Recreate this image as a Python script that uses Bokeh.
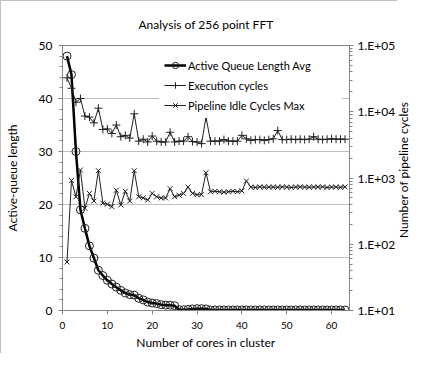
from bokeh.plotting import figure
from bokeh.layouts import row
from bokeh.models import (Range1d, LogScale, LogAxis, ColumnDataSource,
                          SingleIntervalTicker, LogTicker, CustomJSTickFormatter,
                          Legend, LegendItem, Div)
from bokeh.embed import file_html
from bokeh.resources import INLINE

# ---- data ----
cores = [1, 2, 3, 4, 5, 6, 7, 8, 9, 10, 11, 12, 13, 14, 15, 16, 17, 18, 19, 20,
         21, 22, 23, 24, 25, 26, 27, 28, 29, 30, 31, 32, 33, 34, 35, 36, 37, 38, 39, 40,
         41, 42, 43, 44, 45, 46, 47, 48, 49, 50, 51, 52, 53, 54, 55, 56, 57, 58, 59, 60,
         61, 62, 63]

queue_avg = [48.0, 44.5, 30.0, 19.0, 15.5, 12.2, 9.9, 7.6, 6.6, 5.7,
             5.0, 4.4, 3.8, 3.3, 3.0, 2.9, 2.3, 2.0, 1.6, 1.4,
             1.3, 1.1, 1.0, 1.0, 0.9, 0.15, 0.15, 0.2, 0.3, 0.35,
             0.35, 0.3, 0.1, 0.1, 0.1, 0.1, 0.1, 0.1, 0.1, 0.1,
             0.1, 0.1, 0.1, 0.1, 0.1, 0.1, 0.1, 0.1, 0.1, 0.1,
             0.1, 0.1, 0.1, 0.1, 0.1, 0.1, 0.1, 0.1, 0.1, 0.1,
             0.1, 0.1, 0.1]

exec_cycles = [32500, 22600, 13900, 15900, 8600, 8300, 6800, 11300, 5400, 5500,
               4700, 6300, 4200, 4400, 4000, 9300, 3600, 3850, 3500, 4300,
               3600, 3500, 3500, 4900, 3500, 3600, 3600, 4200, 3550, 3500,
               3300, 8300, 3600, 3600, 3600, 3800, 3600, 3600, 3600, 4400,
               3900, 3700, 3800, 3800, 3700, 3800, 3900, 5200, 3800, 3800,
               3850, 3800, 3850, 3800, 3850, 4200, 3850, 3800, 3850, 3900,
               3850, 3850, 3850]

idle_max = [54, 920, 520, 1320, 350, 585, 450, 1290, 417, 402,
            370, 653, 393, 631, 450, 1290, 521, 500, 466, 585,
            521, 500, 500, 690, 521, 550, 585, 730, 585, 560,
            560, 1200, 620, 630, 620, 610, 620, 630, 620, 640,
            900, 730, 720, 735, 725, 730, 730, 725, 735, 730,
            720, 730, 735, 730, 725, 730, 730, 735, 720, 730,
            730, 725, 735]

x_ticks_interval = 10
left_tick_interval = 10

FONT = "Lato"
AXIS_GRAY = "#868686"

src = ColumnDataSource(dict(x=cores, q=queue_avg, e=exec_cycles, i=idle_max))

xr = Range1d(0, 64)
yr = Range1d(0, 50)
p = figure(width=397, height=353, x_range=xr, y_range=yr,
           output_backend="svg", toolbar_location=None,
           min_border_left=59, min_border_right=43, min_border_top=38, min_border_bottom=44)
p.margin = 0
p.styles = {"border-left": "1px solid #bfbfbf", "border-top": "1px solid #bfbfbf"}

p.title.text = "Analysis of 256 point FFT"
p.title.align = "center"
p.title.text_font = FONT
p.title.text_font_size = "12px"
p.title.text_font_style = "normal"
p.title.text_color = "#000000"
p.title.standoff = 27

p.extra_y_ranges = {"cyc": Range1d(10, 100000)}
p.extra_y_scales = {"cyc": LogScale()}

p.outline_line_color = "#808080"
p.background_fill_color = "white"
p.border_fill_color = "white"

# axes
xa = p.xaxis[0]
xa.ticker = SingleIntervalTicker(interval=x_ticks_interval, num_minor_ticks=0)
xa.axis_label = "Number of cores in cluster"
ya = p.yaxis[0]
ya.ticker = SingleIntervalTicker(interval=left_tick_interval, num_minor_ticks=5)
ya.axis_label = "Active-queue length"

ra = LogAxis(y_range_name="cyc", ticker=LogTicker(mantissas=[1], num_minor_ticks=10))
ra.formatter = CustomJSTickFormatter(
    code="return '1.E+' + String(Math.round(Math.log10(tick))).padStart(2, '0');")
p.add_layout(ra, "right")

for ax in (xa, ya, ra):
    ax.axis_line_color = AXIS_GRAY
    ax.major_tick_line_color = AXIS_GRAY
    ax.minor_tick_line_color = AXIS_GRAY
    ax.major_tick_out = 4
    ax.major_tick_in = 0
    ax.minor_tick_out = 3
    ax.minor_tick_in = 0
    ax.major_label_text_font = FONT
    ax.major_label_text_font_size = "12px"
    ax.major_label_text_color = "#000000"
    ax.axis_label_text_font = FONT
    ax.axis_label_text_font_size = "12px"
    ax.axis_label_text_font_style = "normal"
    ax.axis_label_text_color = "#000000"

xa.major_label_text_font_size = "10px"
xa.major_label_standoff = 7
xa.axis_label_standoff = 3
ya.major_label_standoff = 6
ya.axis_label_standoff = 16
ra.major_label_standoff = 4

p.xgrid.visible = False
p.ygrid.ticker = ya.ticker
p.ygrid.grid_line_color = "#bfbfbf"

# series
lq = p.line("x", "q", source=src, line_color="black", line_width=2.5)
sq = p.scatter("x", "q", source=src, marker="circle", size=8, line_color="#202020",
               line_width=1, fill_alpha=0)
le = p.line("x", "e", source=src, y_range_name="cyc", line_color="#202020", line_width=1)
se = p.scatter("x", "e", source=src, y_range_name="cyc", marker="cross", size=8,
               line_color="#202020", line_width=1)
li = p.line("x", "i", source=src, y_range_name="cyc", line_color="#202020", line_width=1)
si = p.scatter("x", "i", source=src, y_range_name="cyc", marker="x", size=7,
               line_color="#202020", line_width=1)

legend = Legend(items=[
    LegendItem(label="Active Queue Length Avg", renderers=[lq, sq]),
    LegendItem(label="Execution cycles", renderers=[le, se]),
    LegendItem(label="Pipeline Idle Cycles Max", renderers=[li, si]),
], location="top_right")
legend.margin = 7
legend.padding = 5
legend.spacing = 4
legend.glyph_width = 22
legend.glyph_height = 16
legend.label_standoff = 2
legend.label_width = 149
legend.label_text_font = FONT
legend.label_text_font_size = "11px"
legend.label_text_color = "#000000"
legend.border_line_alpha = 0
legend.background_fill_color = "white"
legend.background_fill_alpha = 1
p.add_layout(legend)

# right-axis title, reading bottom-to-top
RIGHT_TITLE = "Number of pipeline cycles"
rtitle = Div(
    text=('<div style="writing-mode: vertical-rl; transform: rotate(180deg); '
          'height: 340px; text-align: center; font-family: Lato; font-size: 12px; '
          'line-height: 14px; color: #000000; white-space: nowrap;">'
          + RIGHT_TITLE + '</div>'),
    width=14, height=353, margin=0)

page = row(p, rtitle, margin=0)
open("out.html", "w").write(file_html(page, INLINE))
